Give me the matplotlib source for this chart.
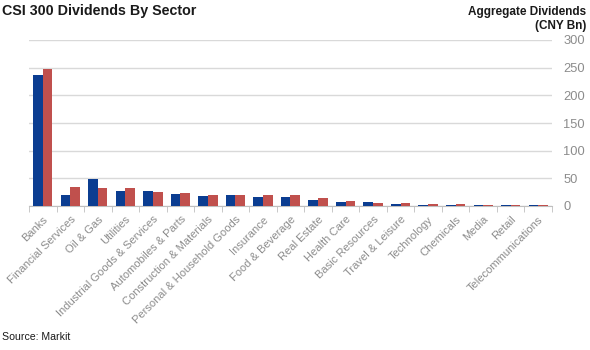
import matplotlib
matplotlib.use("Agg")
import matplotlib.pyplot as plt
import numpy as np

categories = ["Banks", "Financial Services", "Oil & Gas", "Utilities",
              "Industrial Goods & Services", "Automobiles & Parts",
              "Construction & Materials", "Personal & Household Goods",
              "Insurance", "Food & Beverage", "Real Estate", "Health Care",
              "Basic Resources", "Travel & Leisure", "Technology", "Chemicals",
              "Media", "Retail", "Telecommunications"]
series_blue = [237, 20, 49, 28, 27, 22, 17.5, 19, 15.5, 17, 11, 7.8, 7.8, 3.6, 1.8, 1.8, 1.2, 1.2, 1.5]
series_red = [248, 34, 32, 32, 25, 23.5, 20.5, 19, 19, 19, 14, 9, 6, 4.8, 3, 3, 1.2, 1.2, 1.0]
yticks = [0, 50, 100, 150, 200, 250, 300]

plt.rcParams['font.family'] = ['Liberation Sans', 'DejaVu Sans']

fig = plt.figure(figsize=(5.9, 3.5), dpi=100)
ax = fig.add_axes([29/590, 1-206/350, (552-29)/590, (206-40)/350])

x = np.arange(len(categories))
w = 0.35
ax.bar(x - w/2, series_blue, width=w, color="#0b3d91", zorder=3)
ax.bar(x + w/2, series_red, width=w, color="#c0504d", zorder=3)

ax.set_xlim(-0.5, len(categories) - 0.5)
ax.set_ylim(0, 300)
ax.set_yticks(yticks)
ax.yaxis.tick_right()
ax.tick_params(axis='y', length=0, pad=8, labelsize=9.3, labelcolor="#8c8c8c")
ax.grid(axis='y', color="#d9d9d9", linewidth=1, zorder=0)

ax.set_xticks(x)
ax.set_xticklabels(categories, rotation=45, ha='right', rotation_mode='anchor',
                   fontsize=8, color="#8c8c8c")
ax.tick_params(axis='x', length=0, pad=6)
ax.set_xticks(np.arange(len(categories) + 1) - 0.5, minor=True)
ax.tick_params(axis='x', which='minor', length=4, color="#bfbfbf")

for s in ['left', 'top', 'right']:
    ax.spines[s].set_visible(False)
ax.spines['bottom'].set_color("#bfbfbf")

fig.text(2/590, 1-11/350, "CSI 300 Dividends By Sector", fontsize=10.3, fontweight='bold',
         va='center', ha='left', color="#1a1a1a")
fig.text(586/590, 1-19/350, "Aggregate Dividends\n(CNY Bn)", fontsize=8.5, fontweight='bold',
         va='center', ha='right', color="#1a1a1a", linespacing=1.3)
fig.text(2/590, 1-337/350, "Source: Markit", fontsize=7.6, va='center', ha='left', color="#1a1a1a")

fig.savefig("out.png", dpi=100)
